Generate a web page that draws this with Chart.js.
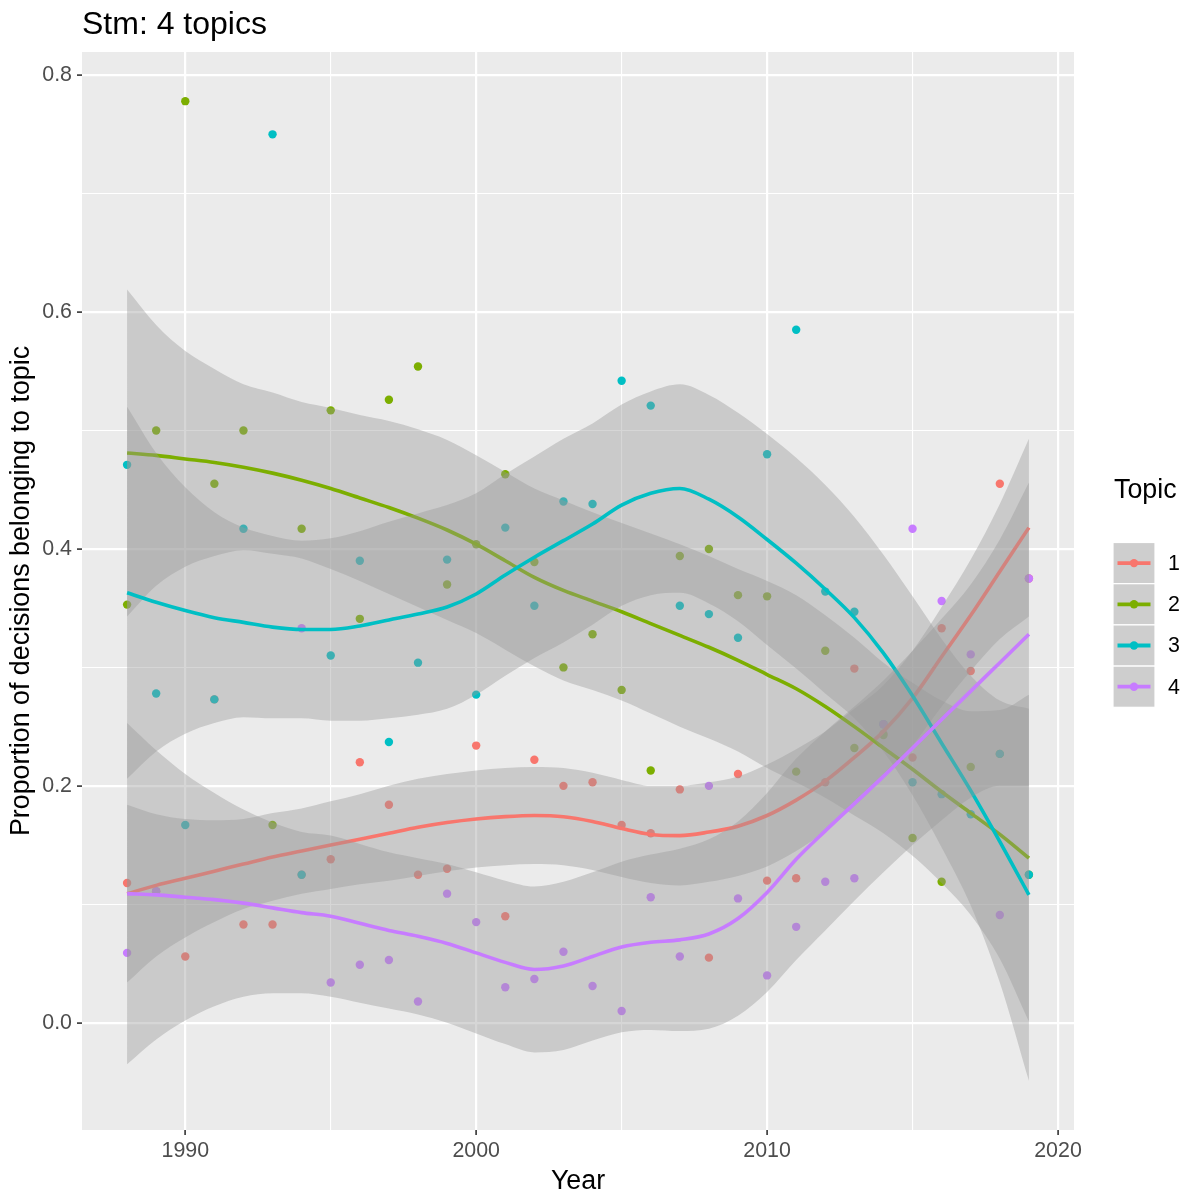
<!DOCTYPE html>
<html>
<head>
<meta charset="utf-8">
<script src="https://cdn.jsdelivr.net/npm/chart.js@4.4.1/dist/chart.umd.min.js"></script>
<style>
  html, body { margin: 0; padding: 0; background: #ffffff; }
  #wrap { width: 1188px; height: 1196px; }
</style>
</head>
<body>
<div id="wrap"><canvas id="c" width="1188" height="1196"></canvas></div>
<script>
// ---- data -------------------------------------------------------------
const chartTitle = 'Stm: 4 topics';
const xTitle = 'Year';
const yTitle = 'Proportion of decisions belonging to topic';
const legendTitle = 'Topic';
const topicLabels = ['1', '2', '3', '4'];
const topicColors = ['#F8766D', '#7CAE00', '#00BFC4', '#C77CFF'];

const years = [1988, 1989, 1990, 1991, 1992, 1993, 1994, 1995, 1996, 1997, 1998,
               1999, 2000, 2001, 2002, 2003, 2004, 2005, 2006, 2007, 2008, 2009,
               2010, 2011, 2012, 2013, 2014, 2015, 2016, 2017, 2018, 2019];

// yearly share of decisions per topic (null = no decision that year)
const share1 = [0.118, 0.111, 0.056, 0.273, 0.083, 0.083, 0.125, 0.138, 0.220, 0.184, 0.125,
                0.130, 0.234, 0.090, 0.222, 0.200, 0.203, 0.167, 0.160, 0.197, 0.055, 0.210,
                0.120, 0.122, 0.203, 0.299, 0.244, 0.224, 0.333, 0.297, 0.455, 0.375];
const share2 = [0.353, 0.500, 0.778, 0.455, 0.500, 0.167, 0.417, 0.517, 0.341, 0.526, 0.554,
                0.370, 0.404, 0.463, 0.389, 0.300, 0.328, 0.281, 0.213, 0.394, 0.400, 0.361,
                0.360, 0.212, 0.314, 0.232, 0.243, 0.156, 0.119, 0.216, 0.227, 0.125];
const share3 = [0.471, 0.278, 0.167, 0.273, 0.417, 0.750, 0.125, 0.310, 0.390, 0.237, 0.304,
                0.391, 0.277, 0.418, 0.352, 0.440, 0.438, 0.542, 0.521, 0.352, 0.345, 0.325,
                0.480, 0.585, 0.364, 0.347, 0.252, 0.203, 0.193, 0.176, 0.227, 0.125];
const share4 = [0.059, 0.111, null, null, null, null, 0.333, 0.034, 0.049, 0.053, 0.018,
                0.109, 0.085, 0.030, 0.037, 0.060, 0.031, 0.010, 0.106, 0.056, 0.200, 0.105,
                0.040, 0.081, 0.119, 0.122, 0.252, 0.417, 0.356, 0.311, 0.091, 0.375];

// smoothed trend per topic
const fit1 = [0.109, 0.116, 0.122, 0.128, 0.134, 0.140, 0.145, 0.150, 0.155, 0.160, 0.165,
              0.169, 0.172, 0.174, 0.175, 0.174, 0.170, 0.164, 0.159, 0.158, 0.161, 0.166,
              0.175, 0.188, 0.204, 0.224, 0.246, 0.274, 0.309, 0.344, 0.381, 0.418];
const fit2 = [0.481, 0.479, 0.476, 0.473, 0.469, 0.464, 0.458, 0.451, 0.443, 0.435, 0.426,
              0.416, 0.404, 0.390, 0.376, 0.365, 0.356, 0.347, 0.337, 0.327, 0.317, 0.306,
              0.294, 0.282, 0.267, 0.250, 0.232, 0.214, 0.195, 0.177, 0.159, 0.139];
const fit3 = [0.363, 0.355, 0.348, 0.342, 0.338, 0.334, 0.332, 0.332, 0.335, 0.340, 0.345,
              0.351, 0.362, 0.378, 0.393, 0.407, 0.421, 0.437, 0.447, 0.451, 0.442, 0.427,
              0.408, 0.388, 0.366, 0.342, 0.312, 0.276, 0.236, 0.196, 0.153, 0.108];
const fit4 = [0.109, 0.108, 0.106, 0.104, 0.101, 0.097, 0.093, 0.090, 0.084, 0.078, 0.073,
              0.067, 0.059, 0.051, 0.045, 0.048, 0.056, 0.064, 0.068, 0.070, 0.075, 0.088,
              0.110, 0.138, 0.162, 0.185, 0.208, 0.232, 0.256, 0.280, 0.304, 0.328];

// confidence band edges per topic
const lower1 = [0.034, 0.056, 0.072, 0.085, 0.096, 0.103, 0.109, 0.113, 0.117, 0.120, 0.124,
                0.128, 0.131, 0.133, 0.134, 0.133, 0.129, 0.123, 0.118, 0.116, 0.119, 0.124,
                0.132, 0.145, 0.162, 0.183, 0.207, 0.234, 0.267, 0.297, 0.324, 0.343];
const upper1 = [0.184, 0.176, 0.172, 0.171, 0.172, 0.177, 0.181, 0.187, 0.193, 0.200, 0.206,
                0.210, 0.213, 0.215, 0.216, 0.215, 0.211, 0.205, 0.200, 0.200, 0.203, 0.208,
                0.218, 0.231, 0.246, 0.265, 0.285, 0.314, 0.351, 0.391, 0.438, 0.493];
const lower2 = [0.343, 0.369, 0.385, 0.394, 0.399, 0.396, 0.392, 0.383, 0.373, 0.362, 0.351,
                0.340, 0.329, 0.315, 0.301, 0.289, 0.281, 0.272, 0.261, 0.250, 0.240, 0.229,
                0.215, 0.203, 0.190, 0.175, 0.160, 0.141, 0.118, 0.091, 0.054, 0.001];
const upper2 = [0.619, 0.589, 0.567, 0.552, 0.539, 0.532, 0.524, 0.519, 0.513, 0.508, 0.501,
                0.492, 0.479, 0.465, 0.451, 0.441, 0.431, 0.422, 0.413, 0.404, 0.394, 0.383,
                0.373, 0.361, 0.344, 0.325, 0.304, 0.287, 0.272, 0.263, 0.264, 0.277];
const lower3 = [0.206, 0.229, 0.244, 0.253, 0.258, 0.257, 0.257, 0.255, 0.255, 0.257, 0.260,
                0.265, 0.277, 0.293, 0.308, 0.321, 0.336, 0.352, 0.361, 0.363, 0.354, 0.339,
                0.319, 0.299, 0.278, 0.257, 0.229, 0.192, 0.148, 0.099, 0.034, -0.049];
const upper3 = [0.520, 0.481, 0.452, 0.431, 0.418, 0.411, 0.407, 0.409, 0.415, 0.423, 0.430,
                0.437, 0.447, 0.463, 0.478, 0.493, 0.506, 0.522, 0.533, 0.539, 0.530, 0.515,
                0.497, 0.477, 0.454, 0.427, 0.395, 0.360, 0.324, 0.293, 0.272, 0.265];
const lower4 = [-0.035, -0.014, 0.002, 0.014, 0.022, 0.025, 0.025, 0.022, 0.017, 0.012, 0.007,
                0.000, -0.009, -0.018, -0.025, -0.023, -0.015, -0.008, -0.006, -0.007, -0.005, 0.006,
                0.026, 0.053, 0.078, 0.103, 0.127, 0.150, 0.171, 0.190, 0.200, 0.200];
const upper4 = [0.253, 0.230, 0.210, 0.194, 0.180, 0.169, 0.161, 0.158, 0.151, 0.144, 0.139,
                0.134, 0.127, 0.120, 0.115, 0.119, 0.127, 0.136, 0.142, 0.147, 0.155, 0.170,
                0.194, 0.223, 0.246, 0.267, 0.289, 0.314, 0.341, 0.370, 0.408, 0.456];

// axis ticks
const xTicks = [1990, 1995, 2000, 2005, 2010, 2015, 2020];
const xTickLabels = ['1990', '', '2000', '', '2010', '', '2020'];
const yTicks = [0, 0.1, 0.2, 0.3, 0.4, 0.5, 0.6, 0.7, 0.8];
const yTickLabels = ['0.0', '', '0.2', '', '0.4', '', '0.6', '', '0.8'];

// ---- styling ----------------------------------------------------------
const FONT = '"Liberation Sans", Arial, Helvetica, sans-serif';
const PANEL_BG = '#EBEBEB';
const BAND_FILL = 'rgba(153,153,153,0.4)';
const NONE = 'rgba(0,0,0,0)';
const TICK_SIZE = 21.4;
const AXIS_TITLE_SIZE = 26.8;

const shareSeries = [share1, share2, share3, share4];
const fitSeries = [fit1, fit2, fit3, fit4];
const lowerSeries = [lower1, lower2, lower3, lower4];
const upperSeries = [upper1, upper2, upper3, upper4];

const toXY = arr => years
  .map((yr, i) => ({ x: yr, y: arr[i] }))
  .filter(p => p.y !== null);

const datasets = [];

// observed shares: drawn first, underneath the bands
shareSeries.forEach((arr, k) => {
  datasets.push({
    label: 'Topic ' + topicLabels[k],
    data: toXY(arr),
    showLine: false,
    fill: false,
    pointRadius: 4.2,
    pointHoverRadius: 4.2,
    pointBorderWidth: 0,
    pointBackgroundColor: topicColors[k],
    backgroundColor: topicColors[k],
    borderColor: topicColors[k],
    order: 100 - k
  });
});

// per topic: band (lower edge + upper edge filled to it), then the trend line
topicLabels.forEach((lab, k) => {
  const lowIdx = datasets.length;
  datasets.push({
    label: 'Topic ' + lab + ' lower',
    data: toXY(lowerSeries[k]),
    borderWidth: 0,
    borderColor: NONE,
    pointRadius: 0,
    fill: false,
    cubicInterpolationMode: 'monotone',
    order: 90 - 3 * k
  });
  datasets.push({
    label: 'Topic ' + lab + ' upper',
    data: toXY(upperSeries[k]),
    borderWidth: 0,
    borderColor: NONE,
    backgroundColor: BAND_FILL,
    pointRadius: 0,
    fill: lowIdx,
    cubicInterpolationMode: 'monotone',
    order: 89 - 3 * k
  });
  datasets.push({
    label: 'Topic ' + lab + ' trend',
    data: toXY(fitSeries[k]),
    borderColor: topicColors[k],
    borderWidth: 3.6,
    pointRadius: 0,
    fill: false,
    cubicInterpolationMode: 'monotone',
    order: 88 - 3 * k
  });
});

const isMajorX = v => xTickLabels[xTicks.indexOf(v)] !== '';
const yIndex = v => yTicks.findIndex(t => Math.abs(t - v) < 1e-9);
const isMajorY = v => { const i = yIndex(v); return i >= 0 && yTickLabels[i] !== ''; };

// panel background, title and legend
const decor = {
  id: 'decor',
  beforeDraw(chart) {
    const { ctx, chartArea: a } = chart;
    ctx.save();
    ctx.fillStyle = '#FFFFFF';
    ctx.fillRect(0, 0, chart.width, chart.height);
    ctx.fillStyle = PANEL_BG;
    ctx.fillRect(a.left, a.top, a.right - a.left, a.bottom - a.top);
    ctx.restore();
  },
  afterDraw(chart) {
    const ctx = chart.ctx;
    ctx.save();
    ctx.fillStyle = '#000000';
    ctx.textAlign = 'left';
    ctx.textBaseline = 'alphabetic';
    ctx.font = '32px ' + FONT;
    ctx.fillText(chartTitle, 82, 34);

    ctx.font = AXIS_TITLE_SIZE + 'px ' + FONT;
    ctx.fillText(legendTitle, 1114, 498);

    const kx = 1113, kw = 42, ky = 542.5, kh = 41.2;
    topicLabels.forEach((lab, i) => {
      const y0 = ky + i * kh;
      const cy = y0 + kh / 2;
      ctx.fillStyle = '#F2F2F2';
      ctx.fillRect(kx, y0, kw, kh);
      ctx.fillStyle = BAND_FILL;
      ctx.fillRect(kx, y0, kw, kh);
      ctx.strokeStyle = '#FFFFFF';
      ctx.lineWidth = 1.2;
      ctx.strokeRect(kx, y0, kw, kh);
      ctx.strokeStyle = topicColors[i];
      ctx.lineWidth = 3.8;
      ctx.beginPath();
      ctx.moveTo(kx + 4.5, cy);
      ctx.lineTo(kx + kw - 4.5, cy);
      ctx.stroke();
      ctx.fillStyle = topicColors[i];
      ctx.beginPath();
      ctx.arc(kx + kw / 2, cy, 4.2, 0, Math.PI * 2);
      ctx.fill();
      ctx.fillStyle = '#000000';
      ctx.font = TICK_SIZE + 'px ' + FONT;
      ctx.textBaseline = 'middle';
      ctx.fillText(lab, 1168, cy + 1);
      ctx.textBaseline = 'alphabetic';
    });
    ctx.restore();
  }
};

new Chart(document.getElementById('c'), {
  type: 'line',
  data: { datasets },
  options: {
    responsive: false,
    animation: false,
    devicePixelRatio: 1,
    events: [],
    layout: { padding: { top: 52, right: 114, left: 0, bottom: 0 } },
    plugins: {
      legend: { display: false },
      tooltip: { enabled: false },
      title: { display: false }
    },
    scales: {
      x: {
        type: 'linear',
        min: 1986.45,
        max: 2020.55,
        afterBuildTicks: s => { s.ticks = xTicks.map(v => ({ value: v })); },
        afterFit: s => { s.height = 66; },
        border: { display: false },
        grid: {
          color: '#FFFFFF',
          lineWidth: c => (c.tick && isMajorX(c.tick.value)) ? 2.2 : 1.1,
          tickColor: c => (c.tick && isMajorX(c.tick.value)) ? '#333333' : NONE,
          tickLength: 5,
          tickWidth: 1.6
        },
        ticks: {
          autoSkip: false,
          maxRotation: 0,
          padding: 3,
          color: '#4D4D4D',
          font: { family: FONT, size: TICK_SIZE },
          callback: v => xTickLabels[xTicks.indexOf(v)] || ''
        },
        title: {
          display: true,
          text: xTitle,
          color: '#000000',
          font: { family: FONT, size: AXIS_TITLE_SIZE },
          padding: { top: 0, bottom: -2 }
        }
      },
      y: {
        type: 'linear',
        min: -0.0905,
        max: 0.8195,
        afterBuildTicks: s => { s.ticks = yTicks.map(v => ({ value: v })); },
        afterFit: s => { s.width = 82; },
        border: { display: false },
        grid: {
          color: '#FFFFFF',
          lineWidth: c => (c.tick && isMajorY(c.tick.value)) ? 2.2 : 1.1,
          tickColor: c => (c.tick && isMajorY(c.tick.value)) ? '#333333' : NONE,
          tickLength: 5,
          tickWidth: 1.6
        },
        ticks: {
          autoSkip: false,
          padding: 5,
          color: '#4D4D4D',
          font: { family: FONT, size: TICK_SIZE },
          callback: v => { const i = yIndex(v); return i >= 0 ? yTickLabels[i] : ''; }
        },
        title: {
          display: true,
          text: yTitle,
          color: '#000000',
          font: { family: FONT, size: AXIS_TITLE_SIZE },
          padding: { top: 6, bottom: 0 }
        }
      }
    }
  },
  plugins: [decor]
});
</script>
</body>
</html>
